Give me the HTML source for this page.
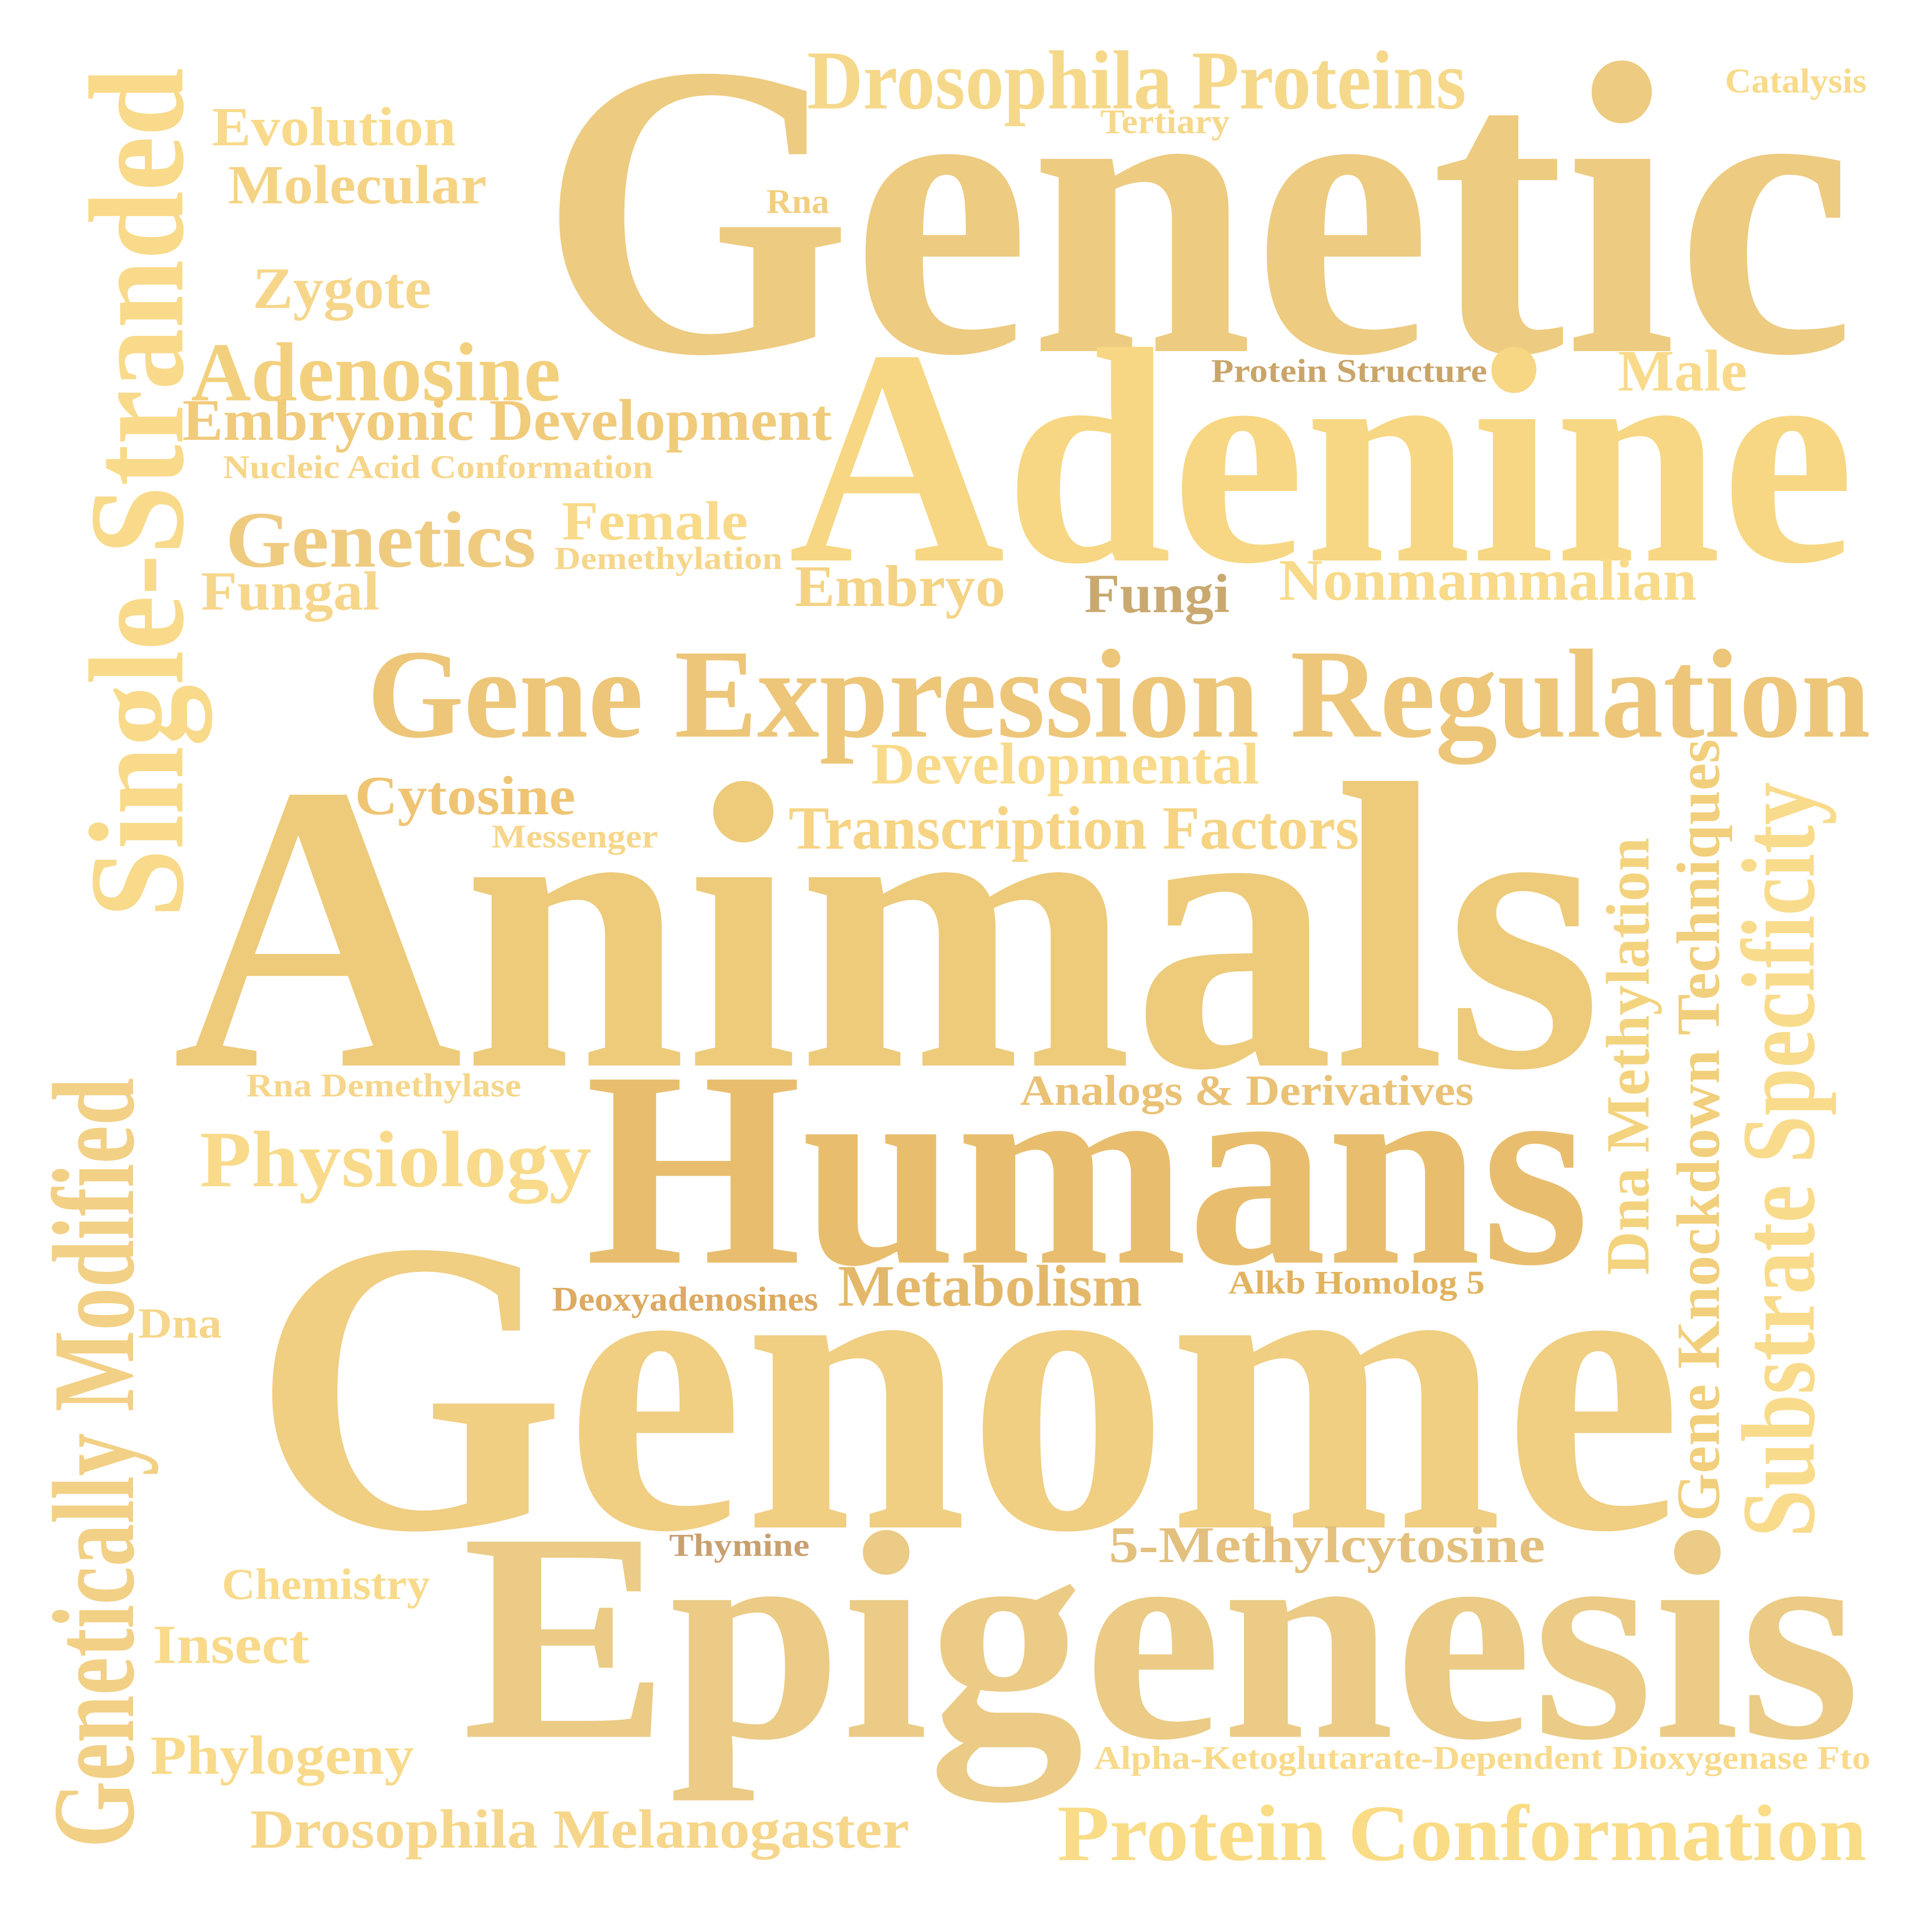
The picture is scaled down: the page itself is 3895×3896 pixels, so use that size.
<!DOCTYPE html>
<html>
<head>
<meta charset="utf-8">
<style>
  html, body { margin: 0; padding: 0; background: #ffffff; }
  svg { display: block; }
  text { font-family: "Liberation Serif", "DejaVu Serif", serif; font-weight: bold; }
</style>
</head>
<body>
<svg width="3895" height="3896" viewBox="0 0 1568 1568.4" xmlns="http://www.w3.org/2000/svg">
  <rect x="0" y="0" width="1568" height="1568.4" fill="#ffffff"/>
  <g id="words"></g>
</svg>
<script>
const words = ["Genetic","Adenine","Animals","Humans","Genome","Epigenesis","Gene Expression Regulation","Drosophila Proteins","Tertiary","Catalysis","Evolution","Molecular","Rna","Zygote","Adenosine","Protein Structure","Male","Embryonic Development","Nucleic Acid Conformation","Female","Genetics","Demethylation","Embryo","Fungi","Nonmammalian","Fungal","Developmental","Cytosine","Transcription Factors","Messenger","Rna Demethylase","Analogs & Derivatives","Physiology","Metabolism","Deoxyadenosines","Alkb Homolog 5","Dna","Thymine","5-Methylcytosine","Chemistry","Insect","Phylogeny","Alpha-Ketoglutarate-Dependent Dioxygenase Fto","Drosophila Melanogaster","Protein Conformation","Single-Stranded","Genetically Modified","Dna Methylation","Gene Knockdown Techniques","Substrate Specificity"];
// layout: [x, baselineY, fontSize, width, color, rotated]
const layout = [
 [438,285,340,1067,"#EDCB80",0],
 [640,455,250,865,"#F7D783",0],
 [140,865,333,1160,"#EDCB7A",0],
 [475,1025,227,815,"#E8BE6E",0],
 [205,1240,340,1160,"#F0CE82",0],
 [375,1410,242,1135,"#EBCB85",0],
 [298,598,103,1220,"#EDC679",0],
 [655,88,68,535,"#F6D88A",0],
 [893,108,28,105,"#F6D88A",0],
 [1400,75,28,115,"#F8DA8A",0],
 [172,118,45,198,"#F8DA8A",0],
 [185,165,45,210,"#F5D385",0],
 [622,173,28,51,"#F2CF80",0],
 [205,250,48,145,"#F6D68A",0],
 [155,325,68,300,"#F3D07D",0],
 [983,310,27,224,"#C9A56A",0],
 [1313,317,48,105,"#F8DA8A",0],
 [148,357,48,527,"#F0CB7C",0],
 [181,388,27,349,"#F6D68A",0],
 [456,438,45,151,"#F8DA8A",0],
 [183,460,65,252,"#EFCB80",0],
 [450,462,26,185,"#F6D68A",0],
 [645,492,48,171,"#F5D385",0],
 [880,497,45,118,"#C9A970",0],
 [1038,487,48,339,"#F8DA8A",0],
 [163,495,45,145,"#F6D68A",0],
 [707,636,48,315,"#F8DA8A",0],
 [288,661,45,179,"#EFC473",0],
 [640,689,50,463,"#F6D483",0],
 [399,688,27,135,"#F6D68A",0],
 [200,890,27,223,"#F6D68A",0],
 [828,897,35,368,"#EAC276",0],
 [162,963,65,318,"#F8DA8A",0],
 [680,1060,48,247,"#E4B86A",0],
 [448,1064,28,216,"#DDAA62",0],
 [997,1050,27,208,"#E2B35F",0],
 [112,1086,35,68,"#F6D68A",0],
 [543,1263,26,114,"#C8A070",0],
 [900,1268,42,354,"#E3C07D",0],
 [180,1298,36,169,"#F8DA8A",0],
 [124,1350,45,127,"#F8DA8A",0],
 [122,1440,45,214,"#F8DA8A",0],
 [888,1436,27,630,"#F8DA8A",0],
 [203,1500,45,535,"#F6D68A",0],
 [858,1510,65,657,"#F9DC85",0],
 [148,745,110,690,"#F8DA8A",1],
 [108,1500,95,625,"#F2D085",1],
 [1338,1035,50,355,"#F4D37E",1],
 [1395,1235,50,635,"#F2CF7C",1],
 [1472,1248,85,613,"#F9DB8C",1]
];
const g = document.getElementById('words');
const NS = 'http://www.w3.org/2000/svg';
words.forEach((w, i) => {
  const L = layout[i];
  const t = document.createElementNS(NS, 'text');
  
  
  t.setAttribute('font-size', L[2]);
  t.setAttribute('fill', L[4]);
  t.setAttribute('textLength', L[3]);
  t.setAttribute('lengthAdjust', 'spacingAndGlyphs');
  if (L[5]) {
    t.setAttribute('x', 0);
    t.setAttribute('y', 0);
    t.setAttribute('transform', 'translate(' + L[0] + ',' + L[1] + ') rotate(-90)');
  } else {
    t.setAttribute('x', L[0]);
    t.setAttribute('y', L[1]);
  }
  t.textContent = w;
  g.appendChild(t);
});
</script>
</body>
</html>
